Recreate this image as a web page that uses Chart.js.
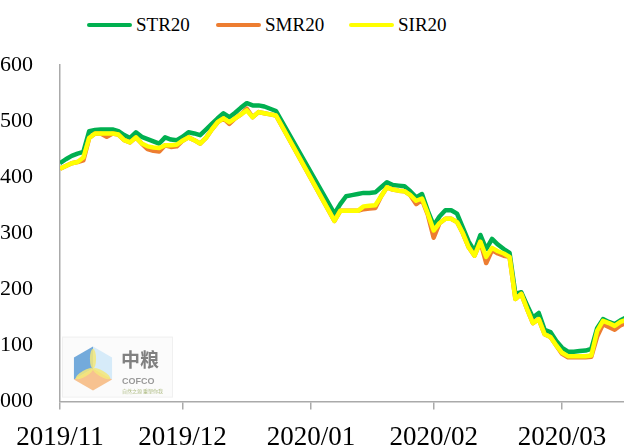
<!DOCTYPE html>
<html>
<head>
<meta charset="utf-8">
<script src="https://cdn.jsdelivr.net/npm/chart.js@4/dist/chart.umd.min.js"></script>
<style>
  body { margin: 0; background: #fff; overflow: hidden; width: 624px; height: 445px; position: relative; }
  #wrap { position: absolute; left: -38px; top: 0; width: 662px; height: 466px; }
  .item { position: absolute; top: 13px; height: 24px; display: flex; align-items: center;
          font-family: "Liberation Serif", serif; font-size: 19px; color: #000; white-space: nowrap; }
  .item span.line { display: inline-block; width: 45px; height: 4px; border-radius: 2px; margin-right: 4px; }
</style>
</head>
<body>
<div class="item" style="left:87px"><span class="line" style="background:#00b050"></span>STR20</div>
<div class="item" style="left:216px"><span class="line" style="background:#ed7d31"></span>SMR20</div>
<div class="item" style="left:349px"><span class="line" style="background:#ffff00"></span>SIR20</div>
<div id="wrap"><canvas id="chart"></canvas></div>
<script>
// month ticks (trading-day index where each month starts)
const monthLabels = ['2019/11', '2019/12', '2020/01', '2020/02', '2020/03'];
const monthStarts = [0, 21, 43, 64, 86];

// USD/t, one value per trading day, null = no quote (line bridges it)
const str20 = [
  1425, 1432, 1438, 1442, 1445, 1482, 1484, 1485, 1485, 1485,
  1482, 1475, 1470, 1480, 1472, 1468, 1464, 1460, 1471, 1467,
  1466, 1472, 1480, 1478, 1475, 1485, 1495, 1505, 1514, 1507,
  1515, 1524, 1532, 1528, 1528, 1526, 1522, 1518, null, null,
  null, null, null, null, null, null, null, 1335, 1352, 1366,
  1368, 1370, 1372, 1372, 1373, 1382, 1391, 1386, 1385, 1384,
  1375, 1364, 1370, 1340, 1314, 1330, 1341, 1341, 1335, 1310,
  1285, 1268, 1297, 1272, 1290, 1280, 1272, 1265, 1192, 1195,
  1172, 1150, 1158, 1128, 1124, 1108, 1096, 1089, 1089, 1090,
  1091, 1094, 1131, 1147, 1142, 1138, 1145, 1150
];
const smr20 = [
  1415, 1420, 1425, 1427, 1430, 1470, 1478, 1478, 1472, 1478,
  1476, 1466, 1462, 1471, 1460, 1450, 1447, 1446, 1457, 1454,
  1455, 1465, 1471, 1466, 1460, 1470, 1485, 1498, 1505, 1495,
  1505, 1512, 1522, 1507, 1516, 1514, 1512, 1510, null, null,
  null, null, null, null, null, null, null, 1322, 1340, 1340,
  1340, 1340, 1343, 1344, 1345, 1366, 1382, 1378, 1376, 1375,
  1368, 1352, 1360, 1333, 1292, 1318, 1326, 1326, 1320, 1300,
  1275, 1260, 1285, 1247, 1270, 1264, 1260, 1258, 1183, 1192,
  1165, 1140, 1147, 1120, 1115, 1100, 1085, 1079, 1079, 1079,
  1079, 1080, 1116, 1138, 1133, 1128, 1136, 1140
];
const sir20 = [
  1415, 1420, 1425, 1427, 1435, 1470, 1478, 1478, 1478, 1478,
  1476, 1466, 1462, 1471, 1460, 1455, 1453, 1452, 1457, 1457,
  1458, 1465, 1471, 1466, 1460, 1470, 1485, 1498, 1505, 1498,
  1505, 1512, 1519, 1507, 1516, 1514, 1512, 1510, null, null,
  null, null, null, null, null, null, null, 1322, 1340, 1340,
  1340, 1340, 1348, 1349, 1350, 1366, 1382, 1378, 1376, 1375,
  1368, 1358, 1362, 1335, 1305, 1318, 1326, 1326, 1320, 1300,
  1275, 1260, 1285, 1258, 1274, 1268, 1264, 1258, 1183, 1192,
  1165, 1140, 1147, 1120, 1115, 1100, 1087, 1081, 1081, 1081,
  1081, 1082, 1126, 1144, 1140, 1135, 1142, 1146
];

const dayIndex = str20.map((v, i) => i);

// faint COFCO watermark in the lower left corner of the plot
const cofcoLogo = {
  id: 'cofcoLogo',
  beforeDatasetsDraw(chart) {
    const ctx = chart.ctx;
    const left = chart.chartArea.left;
    const bottom = chart.chartArea.bottom;
    ctx.save();
    ctx.fillStyle = '#fbfbfb';
    ctx.strokeStyle = '#f0f0f0';
    ctx.lineWidth = 1;
    ctx.fillRect(left + 2, bottom - 65, 110, 60);
    ctx.strokeRect(left + 2.5, bottom - 64.5, 110, 60);

    const cx = left + 33, cy = bottom - 33, r = 22;
    const pt = (deg) => [cx + r * Math.cos(deg * Math.PI / 180), cy + r * Math.sin(deg * Math.PI / 180)];
    const face = (a, b, c, color) => {
      ctx.beginPath();
      ctx.moveTo(cx, cy);
      ctx.lineTo(...pt(a));
      ctx.lineTo(...pt(b));
      ctx.lineTo(...pt(c));
      ctx.closePath();
      ctx.fillStyle = color;
      ctx.fill();
    };
    ctx.globalAlpha = 0.85;
    face(150, 210, 270, '#5b9bd5');
    face(270, 330, 30, '#cfe8f8');
    face(30, 90, 150, '#f6b77c');
    // yellow petals
    ctx.fillStyle = '#f3e77a';
    [270, 30, 150].forEach(deg => {
      ctx.save();
      ctx.translate(cx, cy);
      ctx.rotate(deg * Math.PI / 180);
      ctx.beginPath();
      ctx.ellipse(r * 0.45, 0, r * 0.45, r * 0.14, 0, 0, Math.PI * 2);
      ctx.fill();
      ctx.restore();
    });
    ctx.globalAlpha = 1;

    ctx.fillStyle = '#808080';
    ctx.textBaseline = 'alphabetic';
    ctx.font = 'bold 19px "Noto Sans CJK SC"';
    ctx.fillText('中粮', left + 61, bottom - 35);
    ctx.font = 'bold 9px "Liberation Sans"';
    ctx.fillStyle = '#999999';
    ctx.fillText('COFCO', left + 62, bottom - 18);
    ctx.font = '5px "Noto Sans CJK SC"';
    ctx.fillStyle = '#b0bd86';
    ctx.fillText('自然之源 重塑你我', left + 62, bottom - 9);
    ctx.restore();
  }
};

const config = {
  type: 'line',
  data: {
    labels: dayIndex,
    datasets: [
      {
        label: 'STR20',
        data: str20,
        borderColor: '#00b050',
        backgroundColor: '#00b050',
        order: 3
      },
      {
        label: 'SMR20',
        data: smr20,
        borderColor: '#ed7d31',
        backgroundColor: '#ed7d31',
        order: 2
      },
      {
        label: 'SIR20',
        data: sir20,
        borderColor: '#ffff00',
        backgroundColor: '#ffff00',
        order: 1
      }
    ]
  },
  options: {
    responsive: true,
    maintainAspectRatio: false,
    animation: false,
    spanGaps: true,
    layout: {
      padding: { top: 65, right: 0, bottom: 0, left: 0 }
    },
    elements: {
      line: { borderWidth: 4.5, tension: 0, borderJoinStyle: 'round' },
      point: { radius: 0, hoverRadius: 0 }
    },
    plugins: {
      legend: { display: false },
      tooltip: { enabled: false }
    },
    scales: {
      x: {
        type: 'linear',
        min: 0,
        max: 96.6,
        afterBuildTicks: (scale) => {
          scale.ticks = monthStarts.map(v => ({ value: v }));
        },
        ticks: {
          autoSkip: false,
          maxRotation: 0,
          padding: 12,
          color: '#000',
          font: { family: 'Liberation Serif', size: 27 },
          callback: (value) => monthLabels[monthStarts.indexOf(value)]
        },
        grid: {
          drawOnChartArea: false,
          drawTicks: true,
          tickLength: 8,
          color: '#aaaaaa',
          lineWidth: 1.5
        },
        border: { display: true, color: '#aaaaaa', width: 1.5 }
      },
      y: {
        min: 1000,
        max: 1600,
        ticks: {
          stepSize: 100,
          padding: 27,
          color: '#000',
          font: { family: 'Liberation Serif', size: 22 },
          callback: (value) => String(value)
        },
        grid: { display: false, drawTicks: false },
        border: { display: true, color: '#aaaaaa', width: 1.5 }
      }
    }
  },
  plugins: [cofcoLogo]
};

new Chart(document.getElementById('chart'), config);
</script>
</body>
</html>
